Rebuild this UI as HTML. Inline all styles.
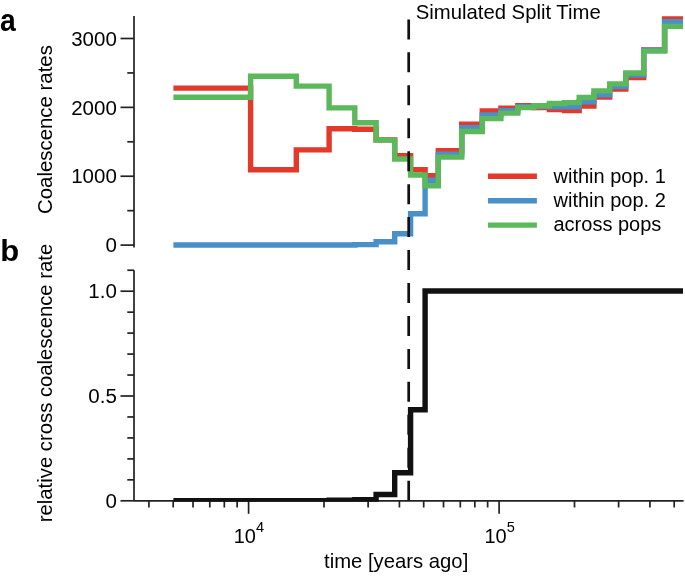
<!DOCTYPE html>
<html><head><meta charset="utf-8">
<style>
html,body{margin:0;padding:0;background:#fff;}
svg{display:block;will-change:transform;}
text{font-family:"Liberation Sans",sans-serif;fill:#000;}
</style></head>
<body>
<svg width="685" height="578" viewBox="0 0 685 578">
<defs><clipPath id="cb"><rect x="134" y="260" width="549.6" height="241.7"/></clipPath></defs>
<rect width="685" height="578" fill="#fff"/>
<g stroke="#222" stroke-width="1.7" fill="none" stroke-linecap="butt">
<line x1="134.0" y1="15.9" x2="134.0" y2="247.6"/>
<line x1="120.5" y1="245.1" x2="134.0" y2="245.1"/>
<line x1="120.5" y1="176.23" x2="134.0" y2="176.23"/>
<line x1="120.5" y1="107.37" x2="134.0" y2="107.37"/>
<line x1="120.5" y1="38.5" x2="134.0" y2="38.5"/>
<line x1="127.3" y1="210.67" x2="134.0" y2="210.67"/>
<line x1="127.3" y1="141.8" x2="134.0" y2="141.8"/>
<line x1="127.3" y1="72.93" x2="134.0" y2="72.93"/>
<line x1="134.0" y1="270.24" x2="134.0" y2="500.8"/>
<line x1="120.5" y1="500.8" x2="134.0" y2="500.8"/>
<line x1="120.5" y1="396" x2="134.0" y2="396"/>
<line x1="120.5" y1="291.2" x2="134.0" y2="291.2"/>
<line x1="127.3" y1="479.84" x2="134.0" y2="479.84"/>
<line x1="127.3" y1="458.88" x2="134.0" y2="458.88"/>
<line x1="127.3" y1="437.92" x2="134.0" y2="437.92"/>
<line x1="127.3" y1="416.96" x2="134.0" y2="416.96"/>
<line x1="127.3" y1="375.04" x2="134.0" y2="375.04"/>
<line x1="127.3" y1="354.08" x2="134.0" y2="354.08"/>
<line x1="127.3" y1="333.12" x2="134.0" y2="333.12"/>
<line x1="127.3" y1="312.16" x2="134.0" y2="312.16"/>
<line x1="127.3" y1="270.24" x2="134.0" y2="270.24"/>
<line x1="134.0" y1="500.8" x2="683.6" y2="500.8"/>
<line x1="248.6" y1="500.8" x2="248.6" y2="513.8"/>
<line x1="499.1" y1="500.8" x2="499.1" y2="513.8"/>
<line x1="148.92" y1="500.8" x2="148.92" y2="507.5"/>
<line x1="173.19" y1="500.8" x2="173.19" y2="507.5"/>
<line x1="193.03" y1="500.8" x2="193.03" y2="507.5"/>
<line x1="209.8" y1="500.8" x2="209.8" y2="507.5"/>
<line x1="224.32" y1="500.8" x2="224.32" y2="507.5"/>
<line x1="237.14" y1="500.8" x2="237.14" y2="507.5"/>
<line x1="324.01" y1="500.8" x2="324.01" y2="507.5"/>
<line x1="368.12" y1="500.8" x2="368.12" y2="507.5"/>
<line x1="399.42" y1="500.8" x2="399.42" y2="507.5"/>
<line x1="423.69" y1="500.8" x2="423.69" y2="507.5"/>
<line x1="443.53" y1="500.8" x2="443.53" y2="507.5"/>
<line x1="460.3" y1="500.8" x2="460.3" y2="507.5"/>
<line x1="474.82" y1="500.8" x2="474.82" y2="507.5"/>
<line x1="487.64" y1="500.8" x2="487.64" y2="507.5"/>
<line x1="574.51" y1="500.8" x2="574.51" y2="507.5"/>
<line x1="618.62" y1="500.8" x2="618.62" y2="507.5"/>
<line x1="649.92" y1="500.8" x2="649.92" y2="507.5"/>
<line x1="674.19" y1="500.8" x2="674.19" y2="507.5"/>
</g>
<g fill="none" stroke-width="5.4" stroke-linejoin="miter" stroke-linecap="butt">
<path d="M173.40 88.10 H250.60 V169.70 H296.30 V149.90 H329.10 V128.70 H354.80 V129.30 H376.10 V139.90 H394.70 V155.60 H410.60 V169.80 H425.10 V175.70 H438.30 V150.75 H461.70 V124.20 H482.30 V111.00 H500.90 V108.10 H517.80 V105.65 H533.80 V107.60 H549.40 V109.65 H564.50 V110.65 H579.20 V105.95 H593.90 V97.05 H609.70 V89.05 H625.80 V77.65 H643.70 V49.90 H664.60 V18.85 H683.00" stroke="#E2392B"/>
<path d="M173.40 245.00 H250.60 V245.00 H296.30 V245.00 H329.10 V245.00 H354.80 V244.60 H376.10 V241.80 H394.70 V233.70 H410.60 V213.80 H425.10 V180.30 H438.30 V154.25 H461.70 V127.70 H482.30 V114.90 H500.90 V110.80 H517.80 V106.70 H533.80 V106.60 H549.40 V106.85 H564.50 V106.85 H579.20 V101.75 H593.90 V94.75 H609.70 V86.55 H625.80 V75.15 H643.70 V50.20 H664.60 V21.75 H683.00" stroke="#4A90C8"/>
<path d="M173.40 97.30 H250.60 V76.20 H296.30 V86.10 H329.10 V107.90 H354.80 V122.80 H376.10 V140.10 H394.70 V159.00 H410.60 V175.00 H425.10 V185.80 H438.30 V157.10 H461.70 V131.50 H482.30 V118.60 H500.90 V113.10 H517.80 V107.60 H533.80 V105.80 H549.40 V103.50 H564.50 V102.60 H579.20 V97.50 H593.90 V90.85 H609.70 V83.85 H625.80 V72.95 H643.70 V51.10 H664.60 V26.40 H683.00" stroke="#5BB85B"/>
<path d="M173.40 500.80 H250.60 V500.80 H296.30 V500.80 H329.10 V500.30 H354.80 V499.80 H376.10 V494.50 H394.70 V472.70 H410.60 V409.70 H425.10 V291.00 H438.30 V291.00 H461.70 V291.00 H482.30 V291.00 H500.90 V291.00 H517.80 V291.00 H533.80 V291.00 H549.40 V291.00 H564.50 V291.00 H579.20 V291.00 H593.90 V291.00 H609.70 V291.00 H625.80 V291.00 H643.70 V291.00 H664.60 V291.00 H683.00" stroke="#111" clip-path="url(#cb)"/>
</g>
<line x1="408.7" y1="19.4" x2="408.7" y2="500.3" stroke="#111" stroke-width="2.7" stroke-dasharray="20 12.95"/>
<g fill="none" stroke-width="5.4">
<line x1="488" y1="176.3" x2="536.9" y2="176.3" stroke="#E2392B"/>
<line x1="488" y1="200.75" x2="536.9" y2="200.75" stroke="#4A90C8"/>
<line x1="488" y1="225.1" x2="536.9" y2="225.1" stroke="#5BB85B"/>
</g>
<g font-size="20">
<text x="553.5" y="183.2">within pop. 1</text>
<text x="553.5" y="207.1">within pop. 2</text>
<text x="553.5" y="231">across pops</text>
<text x="415.8" y="19.1" font-size="20.3">Simulated Split Time</text>
<text x="324" y="568" font-size="20.3">time [years ago]</text>
<g text-anchor="end" font-size="20.5">
<text x="116.8" y="45.7">3000</text>
<text x="116.8" y="114.57">2000</text>
<text x="116.8" y="183.43">1000</text>
<text x="116.8" y="252.3">0</text>
<text x="116.8" y="298.4">1.0</text>
<text x="116.8" y="403.2">0.5</text>
<text x="116.8" y="508">0</text>
</g>
<text x="233.7" y="542.8">10<tspan font-size="14.6" dy="-10.6">4</tspan></text>
<text x="484.4" y="542.8">10<tspan font-size="14.6" dy="-10.6">5</tspan></text>
<text font-size="20.4" transform="translate(52.3,214) rotate(-90)">Coalescence rates</text>
<text font-size="20.3" transform="translate(52.2,522.2) rotate(-90)">relative cross coalescence rate</text>
</g>
<text x="0" y="30.6" font-size="32" font-weight="bold" transform="scale(0.885,1)">a</text>
<text x="0" y="261" font-size="30.4" font-weight="bold" transform="translate(0.3,0) scale(1.02,1)">b</text>
</svg>
</body></html>
